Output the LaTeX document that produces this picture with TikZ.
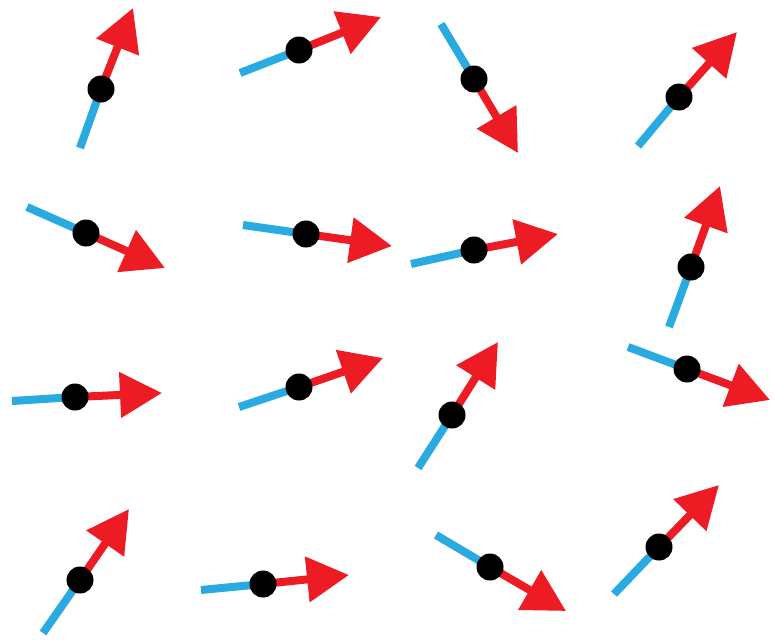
\documentclass[tikz,border=0pt]{standalone}
\usetikzlibrary{arrows.meta}
\definecolor{spinblue}{RGB}{41,171,226}
\definecolor{spinred}{RGB}{237,28,36}
\tikzset{
  tailseg/.style={draw=spinblue,line width=8pt},
  headseg/.style={draw=spinred,line width=8pt,-{Triangle[length=42pt,width=44pt]},fill=spinred},
  spindot/.style={circle,fill=black,inner sep=0pt,minimum size=27pt}
}
\begin{document}
\begin{tikzpicture}[x=1pt,y=-1pt]
\useasboundingbox (0,0) rectangle (774,640);
\foreach \n/\dx/\dy/\tx/\ty/\hx/\hy in {
 a/101/89/80/148/133/8,
 b/299/50/240/73/381/17,
 c/474/79/441/24/518/153,
 d/679/97/638/146/737/32,
 e/86/233/27/207/165/268,
 f/306/234/243/225/392/246,
 g/474/250/411/264/558/234,
 h/691/267/669/327/720/186,
 i/75/397/12/401/162/393,
 j/299/387/239/407/383/358,
 k/452/415/418/468/498/342,
 l/687/369/628/347/770/400,
 m/80/580/43/633/129/509,
 n/263/584/201/590/349/575,
 o/490/567/436/535/566/611,
 p/659/547/614/594/719/485}{
  \coordinate (\n c) at (\dx,\dy);
  \coordinate (\n t) at (\tx,\ty);
  \coordinate (\n h) at (\hx,\hy);
  \draw[tailseg] (\n t) -- (\n c);
  \draw[headseg] (\n c) -- (\n h);
  \node[spindot] (\n) at (\n c) {};
}
\end{tikzpicture}
\end{document}
